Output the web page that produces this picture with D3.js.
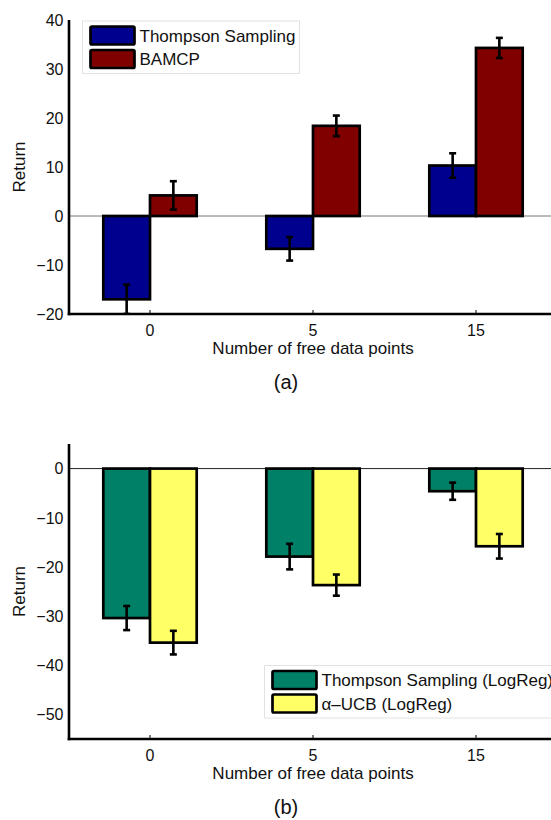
<!DOCTYPE html>
<html lang="en">
<head>
  <meta charset="UTF-8">
  <title>Return vs free data points</title>
  <script src="https://d3js.org/d3.v7.min.js"></script>
</head>
<body>
</body>
<style>
  body {
    margin: 0;
    padding: 0;
    background: #fff;
  }

  text {
    font-family: "Liberation Sans", Arial, sans-serif;
    fill: #111;
  }
</style>
<script>
  const width = 551
  const height = 820

  const categories = ['0', '5', '15']

  // panel (a)
  const seriesA = ['Thompson Sampling', 'BAMCP']
  const meansA = [[-17, -6.7, 10.3], [4.2, 18.4, 34.3]]
  const errsA = [[3, 2.4, 2.5], [2.9, 2.1, 2.05]]
  const ticksA = [-20, -10, 0, 10, 20, 30, 40]

  // panel (b)
  const seriesB = ['Thompson Sampling (LogReg)', '\u03b1\u2013UCB (LogReg)']
  const meansB = [[-30.4, -17.9, -4.6], [-35.4, -23.7, -15.8]]
  const errsB = [[2.45, 2.6, 1.75], [2.4, 2.15, 2.5]]
  const ticksB = [-50, -40, -30, -20, -10, 0]

  const axisX = 69

  const svg = d3.select('body').append('svg')
    .attr('width', width)
    .attr('height', height)

  const x = d3.scalePoint()
    .domain(categories)
    .range([68.5, 557.5])
    .padding(0.5)

  const sub = d3.scaleBand()
    .range([-46.7, 46.7])

  function panel(opts) {
    const g = svg.append('g')
    const y = d3.scaleLinear().domain(opts.domain).range([opts.bottom, opts.top])
    sub.domain(opts.series)

    const clipId = 'clip-' + opts.tag
    g.append('clipPath').attr('id', clipId)
      .append('rect')
      .attr('x', axisX).attr('y', opts.top)
      .attr('width', width).attr('height', opts.bottom - opts.top)

    // zero line
    g.append('line')
      .attr('x1', axisX).attr('x2', width)
      .attr('y1', y(0)).attr('y2', y(0))
      .attr('stroke', opts.zeroColor)
      .attr('stroke-width', 1)

    const plot = g.append('g').attr('clip-path', `url(#${clipId})`)

    const rows = []
    opts.series.forEach((s, si) => {
      categories.forEach((c, ci) => {
        rows.push({ s, si, c, v: opts.means[si][ci], e: opts.errs[si][ci] })
      })
    })

    plot.selectAll('rect.bar')
      .data(rows)
      .join('rect')
      .attr('class', 'bar')
      .attr('x', d => x(d.c) + sub(d.s))
      .attr('width', sub.bandwidth())
      .attr('y', d => Math.min(y(d.v), y(0)))
      .attr('height', d => Math.abs(y(d.v) - y(0)))
      .attr('fill', d => opts.colors[d.si])
      .attr('stroke', '#000')
      .attr('stroke-width', 2.7)

    const eb = plot.selectAll('g.err')
      .data(rows)
      .join('g')
      .attr('class', 'err')
      .attr('stroke', '#000')
      .attr('stroke-width', 2.6)
    const cx = d => x(d.c) + sub(d.s) + sub.bandwidth() / 2
    eb.append('line')
      .attr('x1', cx).attr('x2', cx)
      .attr('y1', d => y(d.v + d.e)).attr('y2', d => y(d.v - d.e))
    ;[1, -1].forEach(sign => {
      eb.append('line')
        .attr('x1', d => cx(d) - 3.5).attr('x2', d => cx(d) + 3.5)
        .attr('y1', d => y(d.v + sign * d.e)).attr('y2', d => y(d.v + sign * d.e))
    })

    // axes
    g.append('line')
      .attr('x1', axisX).attr('x2', axisX)
      .attr('y1', opts.top).attr('y2', opts.bottom + 1.3)
      .attr('stroke', '#000').attr('stroke-width', 2.6)
    g.append('line')
      .attr('x1', axisX - 1.3).attr('x2', width + 5)
      .attr('y1', opts.bottom).attr('y2', opts.bottom)
      .attr('stroke', '#000').attr('stroke-width', 2.6)

    g.selectAll('line.xtick')
      .data(categories)
      .join('line')
      .attr('class', 'xtick')
      .attr('x1', d => x(d)).attr('x2', d => x(d))
      .attr('y1', opts.bottom).attr('y2', opts.bottom - 4)
      .attr('stroke', '#000').attr('stroke-width', 1)

    g.selectAll('text.xtick')
      .data(categories)
      .join('text')
      .attr('class', 'xtick')
      .attr('x', d => x(d))
      .attr('y', opts.bottom + 21.5)
      .attr('text-anchor', 'middle')
      .style('font-size', '16px')
      .text(d => d)

    g.selectAll('text.ytick')
      .data(opts.ticks)
      .join('text')
      .attr('class', 'ytick')
      .attr('x', 63.5)
      .attr('y', d => y(d))
      .attr('dy', '0.36em')
      .attr('text-anchor', 'end')
      .style('font-size', '16px')
      .text(d => d3.format('')(d).replace('-', '\u2212'))

    g.append('text')
      .attr('transform', `translate(25,${(opts.top + opts.bottom) / 2}) rotate(-90)`)
      .attr('text-anchor', 'middle')
      .style('font-size', '17px')
      .text('Return')

    g.append('text')
      .attr('x', 313)
      .attr('y', opts.bottom + 39.5)
      .attr('text-anchor', 'middle')
      .style('font-size', '17px')
      .text('Number of free data points')

    g.append('text')
      .attr('x', 286)
      .attr('y', opts.bottom + 75)
      .attr('text-anchor', 'middle')
      .style('font-size', '20px')
      .text(opts.caption)

    // legend
    const lg = g.append('g').attr('transform', `translate(${opts.legend[0]},${opts.legend[1]})`)
    lg.append('rect')
      .attr('x', 0).attr('y', 0)
      .attr('width', opts.legend[2]).attr('height', 52.5)
      .attr('fill', '#fff')
      .attr('stroke', '#e2e2e2')
      .attr('stroke-width', 1)
    const item = lg.selectAll('g.item')
      .data(opts.series)
      .join('g')
      .attr('class', 'item')
      .attr('transform', (d, i) => `translate(8,${5.5 + i * 23.5})`)
    item.append('rect')
      .attr('width', 44).attr('height', 18)
      .attr('rx', 1.5)
      .attr('fill', (d, i) => opts.colors[i])
      .attr('stroke', '#000')
      .attr('stroke-width', 2.7)
    item.append('text')
      .attr('x', 49)
      .attr('y', 9)
      .attr('dy', '0.36em')
      .style('font-size', '17px')
      .text(d => d)
  }

  panel({
    tag: 'a',
    domain: [-20, 40],
    top: 20,
    bottom: 314,
    series: seriesA,
    means: meansA,
    errs: errsA,
    ticks: ticksA,
    colors: ['#00008f', '#800000'],
    zeroColor: '#777',
    caption: '(a)',
    legend: [82.5, 21, 217]
  })

  panel({
    tag: 'b',
    domain: [-55, 5],
    top: 444,
    bottom: 739,
    series: seriesB,
    means: meansB,
    errs: errsB,
    ticks: ticksB,
    colors: ['#008066', '#ffff66'],
    zeroColor: '#222',
    caption: '(b)',
    legend: [264.5, 665.5, 320]
  })
</script>
</html>
